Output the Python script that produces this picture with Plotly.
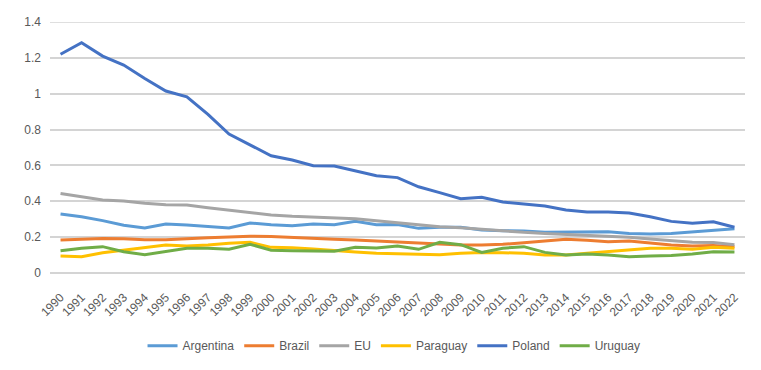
import plotly.graph_objects as go

years = [str(y) for y in range(1990, 2023)]

argentina = [0.329, 0.314, 0.292, 0.266, 0.251, 0.273, 0.268, 0.258, 0.251, 0.279,
             0.269, 0.264, 0.273, 0.269, 0.288, 0.269, 0.271, 0.249, 0.255, 0.255,
             0.240, 0.236, 0.234, 0.227, 0.227, 0.227, 0.230, 0.221, 0.218, 0.221,
             0.230, 0.240, 0.247]
brazil = [0.184, 0.189, 0.193, 0.191, 0.186, 0.186, 0.193, 0.197, 0.201, 0.205,
          0.203, 0.197, 0.195, 0.188, 0.184, 0.178, 0.171, 0.166, 0.160, 0.156,
          0.156, 0.160, 0.169, 0.178, 0.188, 0.182, 0.175, 0.178, 0.166, 0.156,
          0.151, 0.154, 0.147]
eu = [0.444, 0.426, 0.407, 0.402, 0.389, 0.381, 0.379, 0.364, 0.350, 0.333,
      0.323, 0.316, 0.312, 0.308, 0.303, 0.292, 0.281, 0.268, 0.258, 0.253,
      0.244, 0.233, 0.227, 0.221, 0.216, 0.210, 0.206, 0.199, 0.190, 0.180,
      0.171, 0.170, 0.158]
paraguay = [0.095, 0.091, 0.113, 0.128, 0.141, 0.156, 0.151, 0.156, 0.166, 0.171,
            0.143, 0.141, 0.134, 0.124, 0.117, 0.110, 0.106, 0.102, 0.102, 0.110,
            0.115, 0.113, 0.110, 0.100, 0.100, 0.110, 0.119, 0.132, 0.138, 0.138,
            0.132, 0.143, 0.138]
poland = [1.220, 1.285, 1.210, 1.160, 1.085, 1.015, 0.983, 0.885, 0.775, 0.714,
          0.654, 0.630, 0.598, 0.597, 0.569, 0.543, 0.532, 0.481, 0.448, 0.414,
          0.422, 0.396, 0.385, 0.374, 0.351, 0.340, 0.340, 0.335, 0.314, 0.288,
          0.277, 0.286, 0.255]
uruguay = [0.124, 0.138, 0.147, 0.119, 0.102, 0.119, 0.138, 0.138, 0.132, 0.160,
           0.127, 0.124, 0.122, 0.121, 0.143, 0.140, 0.151, 0.132, 0.171, 0.158,
           0.115, 0.138, 0.147, 0.115, 0.100, 0.106, 0.100, 0.091, 0.095, 0.097,
           0.106, 0.119, 0.117]

series = [
    ("Argentina", argentina, "#5B9BD5"),
    ("Brazil", brazil, "#ED7D31"),
    ("EU", eu, "#A5A5A5"),
    ("Paraguay", paraguay, "#FFC000"),
    ("Poland", poland, "#4472C4"),
    ("Uruguay", uruguay, "#70AD47"),
]

fig = go.Figure()
for name, vals, color in series:
    fig.add_trace(go.Scatter(x=years, y=vals, name=name, mode="lines",
                             line=dict(color=color, width=3)))

font = dict(family="Liberation Sans Narrow, Liberation Sans, sans-serif", size=12, color="#595959")
grid = "#D4D4D4"

fig.update_layout(
    width=753, height=362,
    margin=dict(l=42, r=16, t=14, b=97, autoexpand=False),
    paper_bgcolor="white", plot_bgcolor="white",
    font=font,
    showlegend=True,
    legend=dict(orientation="h", x=0.495, xanchor="center", y=-0.29, yanchor="middle",
                font=font, itemwidth=30),
    xaxis=dict(type="category", range=[-0.5, 32.5], tickangle=-45, showgrid=False,
               showline=False, ticks="", zeroline=False, tickfont=font,
               automargin=False, ticklabelstandoff=14),
    yaxis=dict(range=[0, 1.4], tickvals=[0, 0.2, 0.4, 0.6, 0.8, 1.0, 1.2, 1.4],
               ticktext=["0", "0.2", "0.4", "0.6", "0.8", "1", "1.2", "1.4"],
               showgrid=True, gridcolor=grid,
               gridwidth=1.5, zeroline=True, zerolinecolor=grid, zerolinewidth=1.5,
               showline=False, ticks="", tickfont=font, automargin=False,
               ticklabelstandoff=8),
    shapes=[dict(type="line", xref="paper", yref="y", x0=0, x1=1, y0=1.4, y1=1.4,
                 line=dict(color=grid, width=1.5), layer="below")],
)

fig.write_html("out.html")
